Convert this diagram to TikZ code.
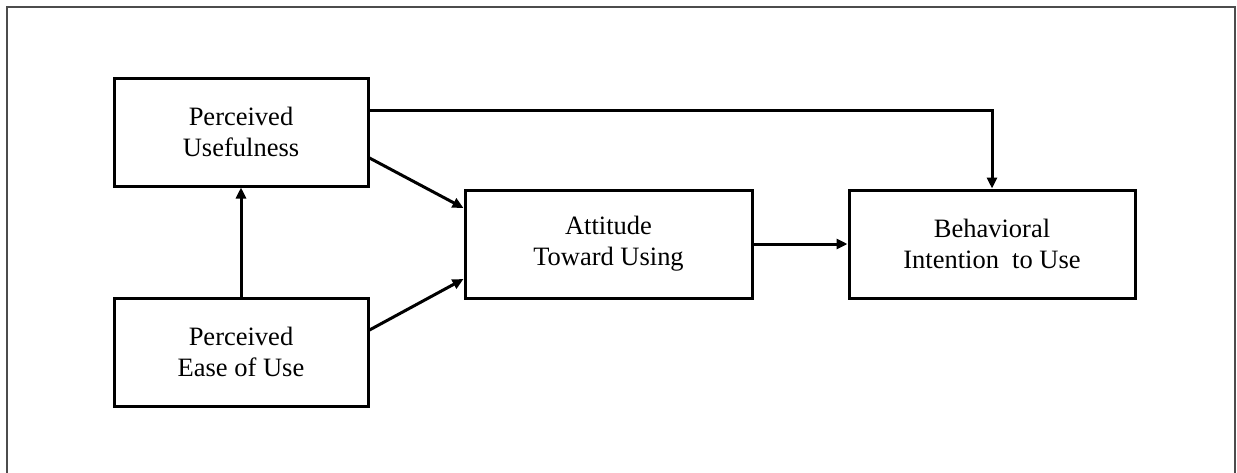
\documentclass[tikz,border=0pt]{standalone}
\usepackage{fontspec}
\setmainfont{Liberation Serif}
\usetikzlibrary{arrows.meta,calc}
\begin{document}
\begin{tikzpicture}[x=1pt,y=-1pt,
  box/.style={draw=black,line width=3pt,minimum height=108pt,align=center,
    font=\fontsize{26.5}{31}\selectfont,inner sep=0pt},
  conn/.style={line width=3pt,-{Triangle[length=11pt,width=10pt]}}]
\useasboundingbox (0,0) rectangle (1237,472);
\draw[line width=1.7pt,draw=black!70] (7,490) -- (7,7) -- (1235,7) -- (1235,490);
\node[box,minimum width=254pt] (PU) at (241,132) {Perceived\\Usefulness};
\node[box,minimum width=254pt] (PEOU) at (241,352) {Perceived\\Ease of Use};
\node[box,minimum width=287pt] (ATT) at (608.5,244) {Attitude\\Toward Using};
\node[box,minimum width=286pt] (BI) at (992,244) {Behavioral\\Intention\ \ to Use};
\draw[conn] (PEOU.north) -- (PU.south);
\draw[conn] ([yshift=-26pt]PU.east) -- ([yshift=36pt]ATT.west);
\draw[conn] ([yshift=22pt]PEOU.east) -- ([yshift=-35pt]ATT.west);
\draw[conn] (ATT.east) -- (BI.west);
\draw[conn] ([yshift=22pt]PU.east) -| (BI.north);
\end{tikzpicture}
\end{document}
